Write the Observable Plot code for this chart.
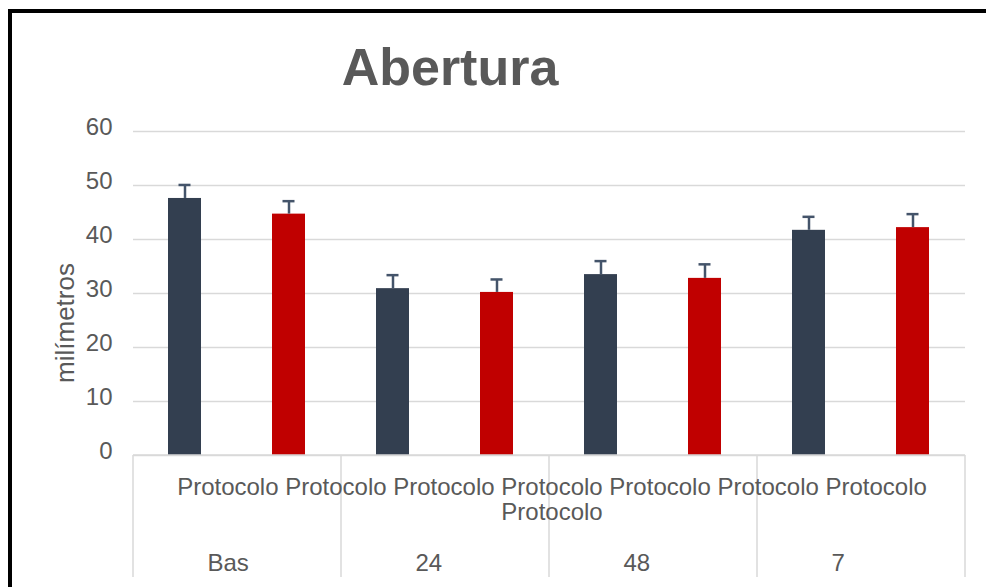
<!DOCTYPE html>
<html>
<head>
<meta charset="utf-8">
<script src="https://cdn.jsdelivr.net/npm/d3@7"></script>
<script src="https://cdn.jsdelivr.net/npm/@observablehq/plot@0.6"></script>
<style>
  html, body { margin: 0; padding: 0; background: #fff; }
  #wrap { position: relative; width: 986px; height: 587px; overflow: hidden; }
  #frame { position: absolute; left: 8px; top: 9px; width: 1100px; height: 700px;
           border-top: 4px solid #000; border-left: 4px solid #000; pointer-events: none; }
  svg { overflow: visible; }
</style>
</head>
<body>
<div id="wrap"><div id="frame"></div></div>
<script>
const titleText = "Abertura";
const yLabel = "milímetros";
const groups = ["Bas", "24", "48", "7"];
const seriesNames = ["Protocolo 1", "Protocolo 2"];
const seriesColors = ["#333f50", "#c00000"];
const darkValues = [47.6, 30.9, 33.5, 41.7];
const darkErrors = [2.5, 2.5, 2.5, 2.5];
const redValues = [44.7, 30.2, 32.8, 42.2];
const redErrors = [2.4, 2.4, 2.6, 2.5];
const yTicks = [0, 10, 20, 30, 40, 50, 60];
const categoryWordsLine1 = ["Protocolo", "Protocolo", "Protocolo", "Protocolo", "Protocolo", "Protocolo", "Protocolo"];
const categoryWordsLine2 = ["Protocolo"];

const rows = groups.flatMap((g, i) => [
  {group: g, series: seriesNames[0], value: darkValues[i], err: darkErrors[i]},
  {group: g, series: seriesNames[1], value: redValues[i], err: redErrors[i]}
]);

const W = 986, H = 587;
const textColor = "#595959";
const gridColor = "#d9d9d9";
const errColor = "#44546a";

const plot = Plot.plot({
  width: W,
  height: H,
  marginLeft: 132,
  marginRight: 20,
  marginTop: 131,
  marginBottom: 132,
  style: {fontFamily: "'Liberation Sans', Arial, sans-serif", fontSize: "24px", background: "transparent", overflow: "visible"},
  fx: {domain: groups, padding: 0},
  x: {domain: seriesNames, paddingInner: 0.68, paddingOuter: 0.34, axis: null},
  y: {domain: [0, 60], ticks: yTicks},
  color: {domain: seriesNames, range: seriesColors},
  marks: [
    Plot.gridY(yTicks, {stroke: gridColor, strokeOpacity: 1, strokeWidth: 1.5}),
    Plot.axisY(yTicks, {tickSize: 0, tickPadding: 21, fontSize: 24, fill: textColor, label: null, dy: -4}),
    Plot.barY(rows, {fx: "group", x: "series", y: "value", fill: "series"}),
    Plot.ruleX(rows, {fx: "group", x: "series", y1: "value", y2: d => d.value + d.err, stroke: errColor, strokeWidth: 2.5}),
    Plot.tickY(rows, {fx: "group", x: "series", y: d => d.value + d.err, stroke: errColor, strokeWidth: 2.5, insetLeft: 10.5, insetRight: 10.5}),
    Plot.axisFx({anchor: "bottom", tickSize: 0, tickPadding: 98, textAnchor: "start", dx: -30, fontSize: 24, fill: textColor, label: null})
  ]
});

document.getElementById("wrap").insertBefore(plot, document.getElementById("frame"));

// Decorations using the plot's own scales
const svg = d3.select(plot.tagName.toLowerCase() === "svg" ? plot : plot.querySelector("svg"));
const fx = plot.scale("fx");
const y = plot.scale("y");
const y0 = y.apply(0);
const left = fx.apply(groups[0]);
const right = fx.apply(groups[groups.length - 1]) + fx.bandwidth;
const bottom = H - 10;
const g = svg.append("g").attr("stroke", gridColor).attr("stroke-width", 1.5);
g.append("line").attr("x1", left).attr("x2", right).attr("y1", y0).attr("y2", y0);
groups.forEach(gr => {
  const xs = fx.apply(gr);
  g.append("line").attr("x1", xs).attr("x2", xs).attr("y1", y0).attr("y2", bottom);
});
g.append("line").attr("x1", right).attr("x2", right).attr("y1", y0).attr("y2", bottom);

const cx = (left + right) / 2;
const t = svg.append("g").attr("fill", textColor).attr("font-family", "'Liberation Sans', Arial, sans-serif").attr("font-size", 24).attr("text-anchor", "middle");
t.append("text").attr("x", cx + 3).attr("y", y0 + 40).text(categoryWordsLine1.join(" "));
t.append("text").attr("x", cx + 3).attr("y", y0 + 65).text(categoryWordsLine2.join(" "));

svg.append("text").attr("x", 450).attr("y", 85).attr("text-anchor", "middle")
  .attr("font-family", "'Liberation Sans', Arial, sans-serif").attr("font-weight", "bold")
  .attr("font-size", 52).attr("fill", textColor).text(titleText);

svg.append("text").attr("transform", "translate(74,323) rotate(-90)").attr("text-anchor", "middle")
  .attr("font-family", "'Liberation Sans', Arial, sans-serif")
  .attr("font-size", 26).attr("fill", textColor).text(yLabel);
</script>
</body>
</html>
